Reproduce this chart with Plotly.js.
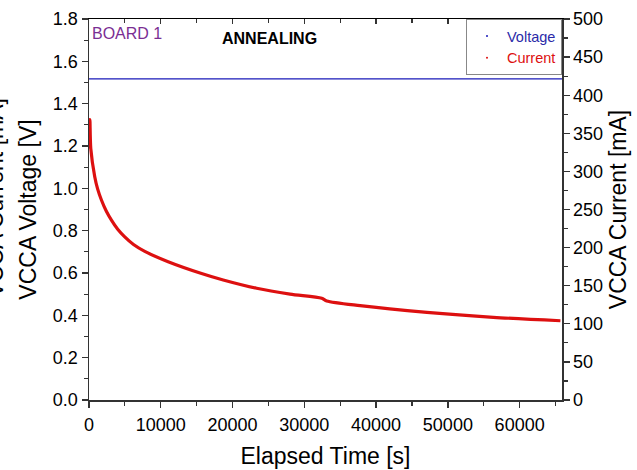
<!DOCTYPE html>
<html>
<head>
<meta charset="utf-8">
<script src="https://cdn.plot.ly/plotly-3.0.1.min.js"></script>
<style>html,body{margin:0;padding:0;background:#fff;}#chart{width:637px;height:470px;}</style>
</head>
<body>
<div id="chart"></div>
<script>
// Data
var voltageTime = [0, 5000, 10000, 20000, 30000, 40000, 50000, 60000, 65900];
var voltageValues = [1.517, 1.517, 1.517, 1.517, 1.517, 1.517, 1.517, 1.517, 1.517];

var currentTime = [0, 120, 250, 800, 1200, 1730, 2400, 3126, 4000, 4981, 6200, 7772, 11023, 15683, 18697, 23357, 28004, 32427, 33124, 37771, 47077, 56328, 65677];
var currentValues = [330, 368, 330, 293, 277, 262.5, 248, 236, 224, 214, 204, 195, 181.5, 166, 157.5, 146.6, 139, 133.5, 130, 123.8, 115, 108.5, 104];

var xTickVals = [0, 10000, 20000, 30000, 40000, 50000, 60000];
var leftTickVals = [0, 0.2, 0.4, 0.6, 0.8, 1.0, 1.2, 1.4, 1.6, 1.8];
var rightTickVals = [0, 50, 100, 150, 200, 250, 300, 350, 400, 450, 500];

var FONT = 'Liberation Sans, Arial, sans-serif';
var AX = '#333333';

var traces = [
  {x: voltageTime, y: voltageValues, type: 'scatter', mode: 'lines', xaxis: 'x', yaxis: 'y',
   line: {color: '#1a1ab8', width: 1.2}, showlegend: false, hoverinfo: 'skip'},
  {x: currentTime, y: currentValues, type: 'scatter', mode: 'lines', xaxis: 'x', yaxis: 'y2',
   line: {color: '#dd1010', width: 3.2, shape: 'spline', smoothing: 0.8}, showlegend: false, hoverinfo: 'skip'},
  {x: [null], y: [null], type: 'scatter', mode: 'markers', name: '<span style="color:#2a2aa8">Voltage</span>',
   marker: {color: '#1a1ab8', size: 2}},
  {x: [null], y: [null], type: 'scatter', mode: 'markers', name: '<span style="color:#dd1010">Current</span>',
   marker: {color: '#dd1010', size: 2}},
  {x: [null], y: [null], type: 'scatter', mode: 'markers', xaxis: 'x2', yaxis: 'y', showlegend: false, hoverinfo: 'skip'}
];

var layout = {
  width: 637, height: 470,
  margin: {l: 89, r: 75, t: 19, b: 70, pad: 0},
  paper_bgcolor: '#ffffff', plot_bgcolor: '#ffffff',
  font: {family: FONT, color: '#000000', size: 18},
  showlegend: true,
  legend: {x: 1, xanchor: 'right', y: 1.0, yanchor: 'top', bgcolor: '#ffffff',
           bordercolor: '#888888', borderwidth: 1, font: {family: FONT, size: 14.5},
           tracegroupgap: 0, itemwidth: 30},
  xaxis: {
    range: [0, 65900], tickvals: xTickVals, tickformat: 'd', ticks: 'outside', ticklen: 6, tickwidth: 1.3, tickcolor: AX,
    minor: {dtick: 5000, ticks: 'outside', ticklen: 4, tickwidth: 1.2, tickcolor: AX},
    showline: true, linecolor: AX, linewidth: 1.5, showgrid: false, zeroline: false,
    tickfont: {family: FONT, size: 18}, ticklabelstandoff: 2,
    title: {text: 'Elapsed Time [s]', font: {family: FONT, size: 23}, standoff: 14}
  },
  xaxis2: {
    overlaying: 'x', matches: 'x', side: 'top', anchor: 'y', range: [0, 65900],
    tickvals: xTickVals, ticks: 'inside', ticklen: 5, tickwidth: 1.3, tickcolor: AX,
    minor: {dtick: 5000, ticks: 'inside', ticklen: 4, tickwidth: 1.2, tickcolor: AX},
    showticklabels: false, showline: true, linecolor: '#000000', linewidth: 1.5, showgrid: false, zeroline: false
  },
  yaxis: {
    range: [0, 1.8], tickvals: leftTickVals, tickformat: '.1f', ticks: 'outside', ticklen: 6, tickwidth: 1.3, tickcolor: AX,
    minor: {dtick: 0.1, ticks: 'outside', ticklen: 4, tickwidth: 1.2, tickcolor: AX},
    showline: true, linecolor: AX, linewidth: 1.5, showgrid: false, zeroline: false,
    tickfont: {family: FONT, size: 18},
    title: {text: 'VCCA Voltage [V]', font: {family: FONT, size: 23}, standoff: 10}
  },
  yaxis2: {
    overlaying: 'y', side: 'right', anchor: 'x', range: [0, 500], tickvals: rightTickVals,
    ticks: 'outside', ticklen: 6, tickwidth: 1.3, tickcolor: AX,
    minor: {dtick: 25, ticks: 'outside', ticklen: 4, tickwidth: 1.2, tickcolor: AX},
    showline: true, linecolor: AX, linewidth: 1.5, showgrid: false, zeroline: false,
    tickfont: {family: FONT, size: 18},
    title: {text: 'VCCA Current [mA]', font: {family: FONT, size: 23}, standoff: 8}
  },
  annotations: [
    {xref: 'paper', yref: 'paper', x: 0.002, y: 0.962, xanchor: 'left', yanchor: 'middle', showarrow: false,
     text: 'BOARD 1', font: {family: FONT, size: 16, color: '#7a2e93'}},
    {xref: 'paper', yref: 'paper', x: 0.277, y: 0.948, xanchor: 'left', yanchor: 'middle', showarrow: false,
     text: '<b>ANNEALING</b>', font: {family: FONT, size: 16, color: '#000000'}},
    {xref: 'paper', yref: 'paper', x: -0.2, xshift: 1, y: 0.53, xanchor: 'center', yanchor: 'middle', showarrow: false,
     textangle: -90, text: 'VCCA Current [mA]', font: {family: FONT, size: 23, color: '#000000'}}
  ]
};

Plotly.newPlot('chart', traces, layout, {staticPlot: true, displayModeBar: false});
</script>
</body>
</html>
